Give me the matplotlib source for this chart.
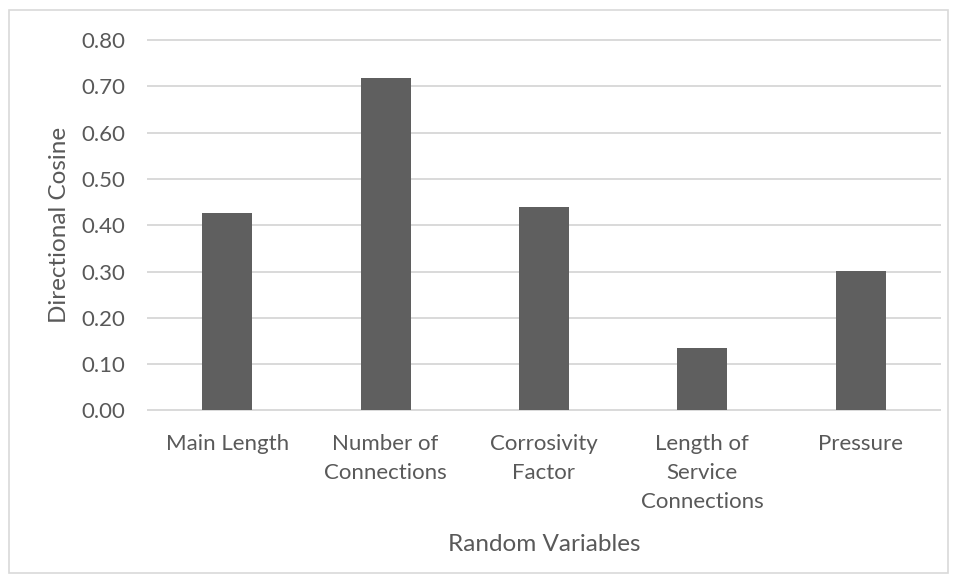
import matplotlib.pyplot as plt
from matplotlib.patches import Rectangle

plt.rcParams['font.family'] = ['Lato', 'DejaVu Sans']

categories = ['Main Length', 'Number of\nConnections', 'Corrosivity\nFactor',
              'Length of\nService\nConnections', 'Pressure']
cosines = [0.427, 0.719, 0.439, 0.134, 0.302]
yticks = [0.0, 0.1, 0.2, 0.3, 0.4, 0.5, 0.6, 0.7, 0.8]

txt = '#595959'
grid = '#d9d9d9'

fig = plt.figure(figsize=(9.58, 5.83), dpi=100)
ax = fig.add_axes([0.1545, 0.2959, 0.8265, 0.6355])

x = range(len(categories))
ax.bar(x, cosines, width=0.316, color='#5f5f5f', zorder=3)

ax.set_xlim(-0.5, len(categories) - 0.5)
ax.set_ylim(0, 0.8)
ax.set_yticks(yticks)
ax.set_yticklabels(['%.2f' % v for v in yticks])
ax.set_xticks(list(x))
ax.set_xticklabels(categories, linespacing=1.56, va='top')

ax.yaxis.grid(True, color=grid, linewidth=1.4)
for gl in ax.yaxis.get_gridlines():
    gl.set_clip_on(False)
ax.set_axisbelow(True)
for s in ax.spines.values():
    s.set_visible(False)
ax.tick_params(axis='both', length=0, labelsize=16, colors=txt)
ax.tick_params(axis='y', pad=16.5)
ax.tick_params(axis='x', pad=17)

ax.set_xlabel('Random Variables', fontsize=17.5, color=txt, labelpad=16)
ax.set_ylabel('Directional Cosine', fontsize=17.5, color=txt, labelpad=8)

# light frame round the whole chart
fig.patches.append(Rectangle((9 / 958, 10 / 583), 939 / 958, 563 / 583,
                             transform=fig.transFigure, fill=False,
                             edgecolor=grid, linewidth=1.2))

fig.savefig('out.png', dpi=100)
